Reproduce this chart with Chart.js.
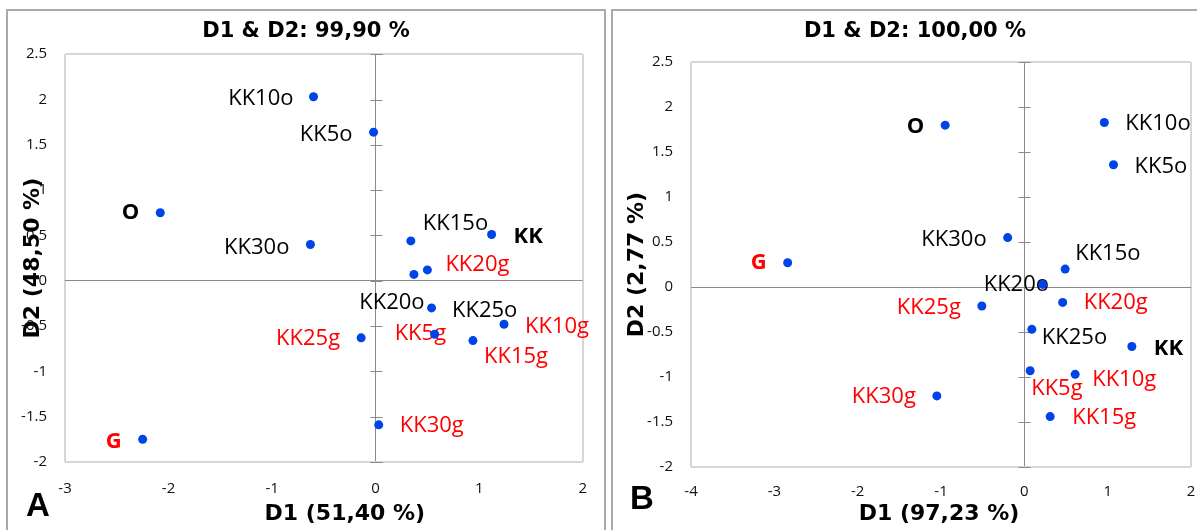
<!DOCTYPE html>
<html>
<head>
  <meta charset="utf-8">
  <title>D1 & D2 biplots</title>
  <script src="https://cdn.jsdelivr.net/npm/chart.js"></script>
  <style>
    body { margin: 0; background: #fff; overflow: hidden; width: 1197px; height: 530px; position: relative; }
    canvas { position: absolute; }
    .frame { position: absolute; border: 2px solid #a9a9a9; border-bottom: none; pointer-events: none; }
    #frameA { left: 6px; top: 9px; width: 596px; height: 530px; }
    #frameB { left: 611px; top: 9px; width: 600px; height: 530px; }
  </style>
</head>
<body>
  <div class="frame" id="frameA"></div>
  <div class="frame" id="frameB"></div>
  <canvas id="chartA" width="598" height="520" style="left:7px; top:10px;"></canvas>
  <canvas id="chartB" width="608" height="520" style="left:611px; top:10px;"></canvas>

  <script>
    // panel A
    const namesA = ['KK10o', 'KK5o', 'O', 'KK30o', 'KK15o', 'KK', 'KK25o', 'KK20g', 'KK20o', 'KK10g', 'KK5g', 'KK15g', 'KK25g', 'KK30g', 'G'];
    const d1A = [-0.60, -0.02, -2.08, -0.63, 0.34, 1.12, 0.37, 0.50, 0.54, 1.24, 0.57, 0.94, -0.14, 0.03, -2.25];
    const d2A = [2.03, 1.64, 0.75, 0.40, 0.44, 0.51, 0.07, 0.12, -0.30, -0.48, -0.59, -0.66, -0.63, -1.59, -1.75];
    const xTicksA = [-3, -2, -1, 0, 1, 2];

    // panel B
    const namesB = ['O', 'KK10o', 'KK5o', 'KK30o', 'G', 'KK15o', 'KK20o', 'KK25g', 'KK20g', 'KK25o', 'KK', 'KK5g', 'KK10g', 'KK30g', 'KK15g'];
    const d1B = [-0.95, 0.96, 1.07, -0.20, -2.84, 0.49, 0.22, -0.51, 0.46, 0.09, 1.29, 0.07, 0.61, -1.05, 0.31];
    const d2B = [1.80, 1.83, 1.36, 0.55, 0.27, 0.20, 0.03, -0.21, -0.17, -0.47, -0.66, -0.93, -0.97, -1.21, -1.44];
    const xTicksB = [-4, -3, -2, -1, 0, 1, 2];

    const yTicks = [-2, -1.5, -1, -0.5, 0, 0.5, 1, 1.5, 2, 2.5];
    const boldNames = ['O', 'KK', 'G'];

    // label placement: side of point, dx, dy (pixels)
    const placeA = [['r', -20, 2], ['r', -21, 3], ['r', -21, 0], ['r', -21, 3], ['l', 12, -17], ['l', 22, 2],
      ['l', 38, 36], ['l', 18, -5], ['r', -7, -5], ['l', 21, 2], ['l', -40, 0], ['l', 11, 16],
      ['r', -21, 1], ['l', 21, 1], ['r', -21, 2]];
    const placeB = [['r', -21, 2], ['l', 21, 1], ['l', 21, 2], ['r', -21, 2], ['r', -21, 0], ['l', 10, -15],
      ['l', -59, 0], ['r', -21, 2], ['l', 21, 0], ['l', 10, 8], ['l', 22, 2], ['l', 1, 18],
      ['l', 17, 5], ['r', -21, 1], ['l', 22, 1]];

    const pointLabels = {
      id: 'pointLabels',
      beforeDatasetsDraw(chart, args, opts) {
        const ctx = chart.ctx;
        const meta = chart.getDatasetMeta(0);
        ctx.save();
        ctx.textBaseline = 'middle';
        opts.names.forEach((name, i) => {
          const pt = meta.data[i];
          const [side, dx, dy] = opts.place[i];
          ctx.font = (boldNames.includes(name) ? 'bold ' : '') + '22px "Open Sans"';
          ctx.fillStyle = /g$/i.test(name) ? '#ff0000' : '#000000';
          ctx.textAlign = side === 'r' ? 'right' : 'left';
          ctx.fillText(name, pt.x + dx, pt.y + dy);
        });
        ctx.restore();
      }
    };

    // short tick marks across the vertical zero axis
    const zeroTicks = {
      id: 'zeroTicks',
      beforeDatasetsDraw(chart) {
        const ctx = chart.ctx;
        const x0 = Math.round(chart.scales.x.getPixelForValue(0)) + 0.5;
        ctx.save();
        ctx.strokeStyle = '#8a8a8a';
        ctx.lineWidth = 1;
        yTicks.forEach(v => {
          const y = Math.round(chart.scales.y.getPixelForValue(v)) + 0.5;
          ctx.beginPath();
          ctx.moveTo(x0 - 6, y);
          ctx.lineTo(x0 + 6, y);
          ctx.stroke();
        });
        ctx.restore();
      }
    };

    const panelText = {
      id: 'panelText',
      afterDraw(chart, args, o) {
        const { ctx, chartArea } = chart;
        ctx.save();
        ctx.fillStyle = '#000';
        ctx.textAlign = 'center';
        ctx.textBaseline = 'middle';
        ctx.font = 'bold 22px "DejaVu Sans"';
        ctx.fillText(o.xTitle, (chartArea.left + chartArea.right) / 2 + o.xTitleShift, o.xTitleY);
        ctx.font = 'bold 33px "Liberation Sans"';
        ctx.fillText(o.letter, o.letterX, o.letterY);
        ctx.restore();
      }
    };

    function edgeColor(ctx, lo, hi) {
      const v = ctx.tick.value;
      if (v === 0) return '#8a8a8a';
      if (v === lo || v === hi) return '#d6d6d6';
      return 'rgba(0,0,0,0)';
    }
    function edgeWidth(ctx, lo, hi) {
      const v = ctx.tick.value;
      return (v === lo || v === hi) ? 2 : 1;
    }

    function makeChart(id, p) {
      const xMin = p.xTicks[0], xMax = p.xTicks[p.xTicks.length - 1];
      const yMin = yTicks[0], yMax = yTicks[yTicks.length - 1];
      const tickFont = { family: 'Open Sans', size: 15 };
      return new Chart(document.getElementById(id), {
        type: 'scatter',
        data: {
          datasets: [{
            data: p.d1.map((x, i) => ({ x: x, y: p.d2[i] })),
            backgroundColor: '#0043e8',
            borderWidth: 0,
            pointRadius: 4.5,
            pointHoverRadius: 4.5
          }]
        },
        options: {
          responsive: false,
          animation: false,
          devicePixelRatio: 1,
          layout: { padding: 0 },
          events: [],
          scales: {
            x: {
              type: 'linear',
              min: xMin, max: xMax,
              afterBuildTicks: s => { s.ticks = p.xTicks.map(v => ({ value: v })); },
              afterFit: s => { s.height = p.xAxisHeight; },
              border: { display: false },
              grid: { drawTicks: false, color: c => edgeColor(c, xMin, xMax), lineWidth: c => edgeWidth(c, xMin, xMax) },
              ticks: { padding: p.xTickPad, font: tickFont, color: '#111', maxRotation: 0, autoSkip: false, callback: v => String(v) }
            },
            y: {
              type: 'linear',
              min: yMin, max: yMax,
              afterBuildTicks: s => { s.ticks = yTicks.map(v => ({ value: v })); },
              afterFit: s => { s.width = p.yAxisWidth; },
              border: { display: false },
              grid: { drawTicks: false, color: c => edgeColor(c, yMin, yMax), lineWidth: c => edgeWidth(c, yMin, yMax) },
              ticks: { padding: 18, font: tickFont, color: '#111', autoSkip: false, callback: v => String(v) },
              title: {
                display: true, text: p.yTitle, color: '#000',
                font: { family: 'DejaVu Sans', size: 22, weight: 'bold' },
                padding: { top: 13, bottom: 0 }
              }
            },
            // empty right-hand strip so the chart title stays centred on the whole panel
            yRight: {
              type: 'linear', position: 'right',
              min: yMin, max: yMax,
              afterFit: s => { s.width = p.rightGap; },
              border: { display: false },
              grid: { display: false },
              ticks: { display: false }
            }
          },
          plugins: {
            legend: { display: false },
            tooltip: { enabled: false },
            title: {
              display: true, text: p.title, color: '#000',
              font: { family: 'DejaVu Sans', size: 21, weight: 'bold' },
              padding: { top: 9, bottom: p.titleBottom }
            },
            pointLabels: { names: p.names, place: p.place },
            panelText: { xTitle: p.xTitle, xTitleShift: p.xTitleShift, xTitleY: 504, letter: p.letter, letterX: 31, letterY: p.letterY }
          }
        },
        plugins: [zeroTicks, pointLabels, panelText]
      });
    }

    makeChart('chartA', {
      names: namesA, d1: d1A, d2: d2A, xTicks: xTicksA, place: placeA,
      title: 'D1 & D2: 99,90 %', xTitle: 'D1 (51,40 %)', yTitle: 'D2 (48,50 %)',
      rightGap: 20, yAxisWidth: 58, xAxisHeight: 68, xTickPad: 18, titleBottom: 10,
      xTitleShift: 21, letter: 'A', letterY: 497
    });

    makeChart('chartB', {
      names: namesB, d1: d1B, d2: d2B, xTicks: xTicksB, place: placeB,
      title: 'D1 & D2: 100,00 %', xTitle: 'D1 (97,23 %)', yTitle: 'D2 (2,77 %)',
      rightGap: 28, yAxisWidth: 80, xAxisHeight: 63, xTickPad: 16, titleBottom: 18,
      xTitleShift: -2, letter: 'B', letterY: 490
    });
  </script>
</body>
</html>
